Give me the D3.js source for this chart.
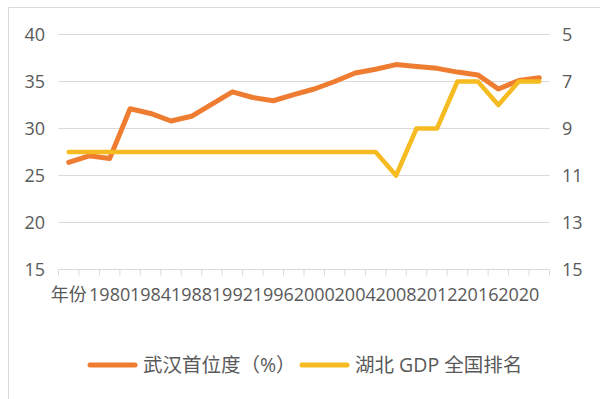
<!DOCTYPE html>
<html>
<head>
<meta charset="utf-8">
<script src="https://cdn.jsdelivr.net/npm/d3@7/dist/d3.min.js"></script>
<style>
  body { margin: 0; background: #fff; }
  text { font-family: "Open Sans", "Noto Sans CJK SC", sans-serif; fill: #595959; }
</style>
</head>
<body>
<div id="chart"></div>
<script>
// categories (first one is the header cell that ended up in the series)
var years = ["年份", "1978", "1980", "1982", "1984", "1986", "1988", "1990", "1992", "1994", "1996", "1998",
             "2000", "2002", "2004", "2006", "2008", "2010", "2012", "2014", "2016", "2018", "2020", "2022"];
// 武汉首位度 (%), left axis
var primacy = [26.4, 27.1, 26.8, 32.1, 31.6, 30.8, 31.3, 32.6, 33.9, 33.3, 32.95, 33.6,
               34.2, 35.0, 35.9, 36.3, 36.8, 36.6, 36.4, 36.0, 35.7, 34.2, 35.1, 35.4];
// 湖北 GDP 全国排名, right axis (reversed)
var gdpRank = [10, 10, 10, 10, 10, 10, 10, 10, 10, 10, 10, 10,
               10, 10, 10, 10, 11, 9, 9, 7, 7, 8, 7, 7];
var leftTicks = [15, 20, 25, 30, 35, 40];
var rightTicks = [5, 7, 9, 11, 13, 15];
var seriesNames = ["武汉首位度（%）", "湖北 GDP 全国排名"];
var seriesColors = ["#EE7D31", "#F6BB21"];

var width = 600, height = 399;
var svg = d3.select("#chart").append("svg")
    .attr("width", width)
    .attr("height", height);

// chart border (only left and top visible)
svg.append("path")
    .attr("d", "M8.5," + height + "V7.5H" + width)
    .attr("fill", "none")
    .attr("stroke", "#D9D9D9");

var x = d3.scaleBand().domain(years).range([58.5, 549.5]).padding(0);
var yL = d3.scaleLinear().domain([15, 40]).range([269.5, 34.5]);
var yR = d3.scaleLinear().domain([15, 5]).range([269.5, 34.5]);

// gridlines
svg.append("g").selectAll("line")
    .data(leftTicks.slice(1))
    .join("line")
    .attr("x1", 58.5).attr("x2", 549.5)
    .attr("y1", d => yL(d)).attr("y2", d => yL(d))
    .attr("stroke", "#D9D9D9");

// left axis labels
svg.append("g")
    .attr("transform", "translate(58,0)")
    .call(d3.axisLeft(yL).tickValues(leftTicks).tickSize(0).tickPadding(13))
    .call(g => g.select(".domain").remove())
    .selectAll("text")
    .style("font-size", "18px")
    .attr("fill", "#595959");

// right axis labels
svg.append("g")
    .attr("transform", "translate(550,0)")
    .call(d3.axisRight(yR).tickValues(rightTicks).tickSize(0).tickPadding(12))
    .call(g => g.select(".domain").remove())
    .selectAll("text")
    .style("font-size", "18px")
    .attr("fill", "#595959");

// category axis: baseline + boundary ticks
var axisY = yL(15);
svg.append("line")
    .attr("x1", 58.5).attr("x2", 549.5)
    .attr("y1", axisY).attr("y2", axisY)
    .attr("stroke", "#D9D9D9");
var bounds = years.map(d => x(d)).concat([x(years[years.length - 1]) + x.bandwidth()]);
svg.append("g").selectAll("line")
    .data(bounds)
    .join("line")
    .attr("x1", d => d).attr("x2", d => d)
    .attr("y1", axisY).attr("y2", axisY + 6)
    .attr("stroke", "#D9D9D9");

svg.append("g")
    .attr("transform", "translate(0," + axisY + ")")
    .call(d3.axisBottom(x).tickValues(years.filter((d, i) => i % 2 === 0)).tickSize(0).tickPadding(31))
    .call(g => g.select(".domain").remove())
    .selectAll("text")
    .style("font-size", "18px")
    .attr("dy", "0")
    .attr("fill", "#595959");

// lines
var lineL = d3.line()
    .x((d, i) => x(years[i]) + x.bandwidth() / 2)
    .y(d => yL(d));
var lineR = d3.line()
    .x((d, i) => x(years[i]) + x.bandwidth() / 2)
    .y(d => yR(d));

svg.append("path")
    .attr("d", lineL(primacy))
    .attr("fill", "none")
    .attr("stroke", seriesColors[0])
    .attr("stroke-width", 5)
    .attr("stroke-linejoin", "round")
    .attr("stroke-linecap", "round");

svg.append("path")
    .attr("d", lineR(gdpRank))
    .attr("fill", "none")
    .attr("stroke", seriesColors[1])
    .attr("stroke-width", 4.5)
    .attr("stroke-linejoin", "round")
    .attr("stroke-linecap", "round");

// legend
var legendX = [88, 300];
var legend = svg.append("g").selectAll("g")
    .data(seriesNames)
    .join("g")
    .attr("transform", (d, i) => "translate(" + legendX[i] + ",365)");
legend.append("line")
    .attr("x1", 2).attr("x2", 47)
    .attr("stroke", (d, i) => seriesColors[i])
    .attr("stroke-width", 5)
    .attr("stroke-linecap", "round");
legend.append("text")
    .attr("x", 55)
    .attr("y", 7)
    .style("font-size", "19.5px")
    .text(d => d);
</script>
</body>
</html>
